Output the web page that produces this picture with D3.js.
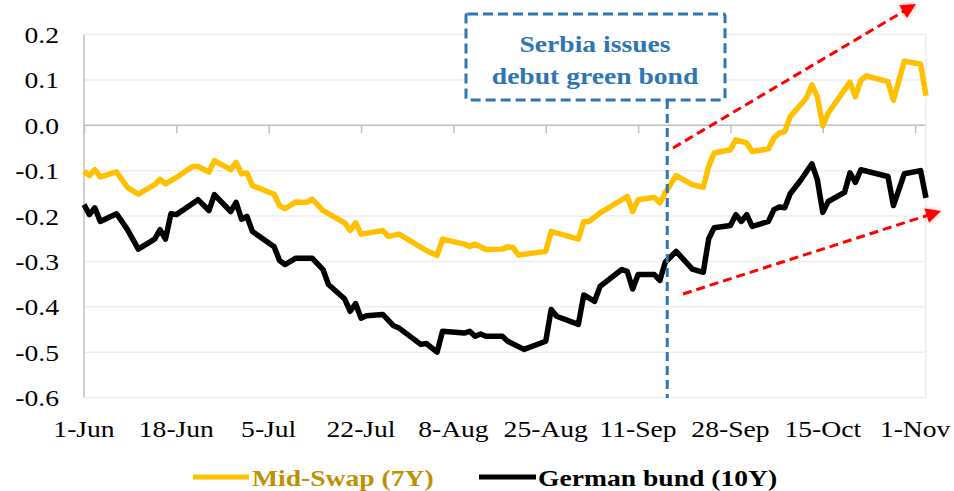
<!DOCTYPE html>
<html>
<head>
<meta charset="utf-8">
<title>Mid-Swap vs German bund</title>
<style>
  body { margin: 0; background: #fff; }
  svg text { font-family: "Liberation Serif", "Times New Roman", serif; }
</style>
</head>
<body>
<div id="chart"></div>
<script src="https://d3js.org/d3.v7.min.js"></script>
<script>
// data (2021), yields in %
var swapDates = ["2021-06-01","2021-06-02","2021-06-03","2021-06-04","2021-06-07","2021-06-09","2021-06-11","2021-06-14","2021-06-15","2021-06-16","2021-06-18","2021-06-21","2021-06-22","2021-06-24","2021-06-25","2021-06-28","2021-06-29","2021-06-30","2021-07-01","2021-07-02","2021-07-06","2021-07-07","2021-07-08","2021-07-10","2021-07-12","2021-07-13","2021-07-15","2021-07-19","2021-07-20","2021-07-21","2021-07-22","2021-07-26","2021-07-27","2021-07-29","2021-08-03","2021-08-05","2021-08-06","2021-08-10","2021-08-11","2021-08-12","2021-08-14","2021-08-17","2021-08-18","2021-08-19","2021-08-20","2021-08-25","2021-08-26","2021-08-31","2021-09-01","2021-09-02","2021-09-04","2021-09-09","2021-09-10","2021-09-11","2021-09-14","2021-09-15","2021-09-16","2021-09-18","2021-09-21","2021-09-23","2021-09-24","2021-09-25","2021-09-28","2021-09-29","2021-10-01","2021-10-02","2021-10-05","2021-10-06","2021-10-07","2021-10-08","2021-10-09","2021-10-12","2021-10-13","2021-10-14","2021-10-15","2021-10-16","2021-10-20","2021-10-21","2021-10-22","2021-10-23","2021-10-27","2021-10-28","2021-10-30","2021-11-02","2021-11-03"];
var swapValues = [-0.101,-0.111,-0.098,-0.114,-0.103,-0.137,-0.152,-0.131,-0.119,-0.129,-0.115,-0.091,-0.091,-0.103,-0.078,-0.098,-0.082,-0.107,-0.105,-0.133,-0.152,-0.177,-0.184,-0.169,-0.170,-0.163,-0.188,-0.215,-0.232,-0.215,-0.240,-0.232,-0.245,-0.240,-0.276,-0.287,-0.251,-0.262,-0.267,-0.262,-0.274,-0.273,-0.268,-0.270,-0.286,-0.278,-0.234,-0.251,-0.212,-0.212,-0.193,-0.157,-0.190,-0.164,-0.159,-0.171,-0.149,-0.111,-0.131,-0.137,-0.090,-0.061,-0.054,-0.032,-0.039,-0.058,-0.052,-0.028,-0.017,-0.014,0.019,0.060,0.089,0.063,-0.001,0.027,0.095,0.063,0.099,0.109,0.096,0.055,0.141,0.135,0.065];

var bundDates = ["2021-06-01","2021-06-02","2021-06-03","2021-06-04","2021-06-07","2021-06-09","2021-06-11","2021-06-14","2021-06-15","2021-06-16","2021-06-17","2021-06-18","2021-06-22","2021-06-24","2021-06-25","2021-06-28","2021-06-29","2021-06-30","2021-07-01","2021-07-02","2021-07-06","2021-07-07","2021-07-08","2021-07-10","2021-07-13","2021-07-15","2021-07-16","2021-07-19","2021-07-20","2021-07-21","2021-07-22","2021-07-23","2021-07-26","2021-07-28","2021-07-29","2021-08-02","2021-08-03","2021-08-05","2021-08-06","2021-08-10","2021-08-11","2021-08-12","2021-08-13","2021-08-14","2021-08-17","2021-08-18","2021-08-21","2021-08-25","2021-08-26","2021-08-27","2021-08-31","2021-09-01","2021-09-03","2021-09-04","2021-09-08","2021-09-09","2021-09-10","2021-09-11","2021-09-14","2021-09-15","2021-09-16","2021-09-18","2021-09-21","2021-09-23","2021-09-24","2021-09-25","2021-09-28","2021-09-29","2021-09-30","2021-10-01","2021-10-02","2021-10-05","2021-10-06","2021-10-07","2021-10-08","2021-10-09","2021-10-11","2021-10-13","2021-10-14","2021-10-15","2021-10-16","2021-10-19","2021-10-20","2021-10-21","2021-10-22","2021-10-27","2021-10-28","2021-10-30","2021-11-02","2021-11-03"];
var bundValues = [-0.175,-0.197,-0.182,-0.212,-0.195,-0.230,-0.273,-0.251,-0.230,-0.251,-0.195,-0.197,-0.164,-0.188,-0.153,-0.190,-0.170,-0.207,-0.201,-0.234,-0.268,-0.298,-0.307,-0.293,-0.293,-0.318,-0.351,-0.383,-0.410,-0.393,-0.425,-0.420,-0.417,-0.442,-0.447,-0.483,-0.481,-0.500,-0.454,-0.458,-0.454,-0.465,-0.460,-0.465,-0.465,-0.476,-0.494,-0.476,-0.406,-0.421,-0.439,-0.374,-0.388,-0.355,-0.318,-0.322,-0.361,-0.329,-0.329,-0.342,-0.302,-0.278,-0.317,-0.324,-0.250,-0.226,-0.221,-0.197,-0.212,-0.197,-0.223,-0.212,-0.186,-0.180,-0.182,-0.151,-0.120,-0.085,-0.120,-0.192,-0.168,-0.148,-0.105,-0.126,-0.098,-0.113,-0.177,-0.107,-0.100,-0.160];

var xTickDates = ["2021-06-01","2021-06-18","2021-07-05","2021-07-22","2021-08-08","2021-08-25","2021-09-11","2021-09-28","2021-10-15","2021-11-01"];
var xTickLabels = ["1-Jun","18-Jun","5-Jul","22-Jul","8-Aug","25-Aug","11-Sep","28-Sep","15-Oct","1-Nov"];
var yTicks = [-0.6,-0.5,-0.4,-0.3,-0.2,-0.1,0.0,0.1,0.2];
var seriesNames = ["Mid-Swap (7Y)", "German bund (10Y)"];
var eventDate = "2021-09-16";
var eventText = ["Serbia issues", "debut green bond"];

var width = 954, height = 491;
var parse = d3.timeParse("%Y-%m-%d");
var stretch = "scale(1.2,1)";   // the original chart text is a bit wide

var svg = d3.select("#chart").append("svg")
  .attr("width", width)
  .attr("height", height);

var x = d3.scaleTime()
  .domain([parse("2021-06-01"), parse("2021-11-03")])
  .range([84, 926]);
var y = d3.scaleLinear()
  .domain([-0.6, 0.2])
  .range([397.5, 34.5]);

// gridlines
svg.append("g").selectAll("line")
  .data(yTicks)
  .enter().append("line")
  .attr("x1", 84).attr("x2", 926)
  .attr("y1", function(d){ return y(d); })
  .attr("y2", function(d){ return y(d); })
  .attr("stroke", function(d){ return d === 0 ? "#bfbfbf" : "#ededed"; })
  .attr("stroke-width", 1.5);

// right border + left axis
svg.append("line").attr("x1", 926).attr("x2", 926).attr("y1", y(0.2)).attr("y2", y(-0.6))
  .attr("stroke", "#ededed").attr("stroke-width", 1.5);
svg.append("line").attr("x1", 84).attr("x2", 84).attr("y1", y(0.2)).attr("y2", y(-0.6))
  .attr("stroke", "#bfbfbf").attr("stroke-width", 1.5);

// y axis labels
var yAxis = svg.append("g")
  .attr("transform", "translate(84,0)")
  .call(d3.axisLeft(y).tickValues(yTicks).tickSize(0).tickPadding(0)
        .tickFormat(function(d){ return d.toFixed(1).replace("\u2212", "-"); }));
yAxis.select(".domain").remove();
yAxis.selectAll("text")
  .attr("x", null).attr("dy", null)
  .attr("transform", "translate(-25,8) " + stretch)
  .attr("font-family", "Liberation Serif")
  .attr("font-size", 23)
  .attr("fill", "#000")
  .attr("text-anchor", "end");

// x ticks on the zero line
var xAxis = svg.append("g")
  .attr("transform", "translate(0," + y(0) + ")")
  .call(d3.axisBottom(x).tickValues(xTickDates.map(parse)).tickSizeOuter(0).tickSizeInner(8).tickFormat(""));
xAxis.select(".domain").remove();
xAxis.selectAll("line").attr("stroke", "#bfbfbf").attr("stroke-width", 1.5);

// x labels at bottom
svg.append("g").selectAll("text")
  .data(xTickDates)
  .enter().append("text")
  .attr("transform", function(d){ return "translate(" + x(parse(d)) + ",437) " + stretch; })
  .attr("text-anchor", "middle")
  .attr("font-size", 23)
  .text(function(d, i){ return xTickLabels[i]; });

// lines
var line = d3.line()
  .x(function(d){ return x(d.date); })
  .y(function(d){ return y(d.value); });

var swap = swapDates.map(function(d, i){ return {date: parse(d), value: swapValues[i]}; });
var bund = bundDates.map(function(d, i){ return {date: parse(d), value: bundValues[i]}; });

svg.append("path").datum(swap)
  .attr("d", line)
  .attr("fill", "none")
  .attr("stroke", "#FFC000")
  .attr("stroke-width", 5.5)
  .attr("stroke-linejoin", "round");

svg.append("path").datum(bund)
  .attr("d", line)
  .attr("fill", "none")
  .attr("stroke", "#000")
  .attr("stroke-width", 5.5)
  .attr("stroke-linejoin", "round");

// event marker
var ex = x(parse(eventDate)) + 2;
svg.append("line")
  .attr("x1", ex).attr("x2", ex)
  .attr("y1", 100).attr("y2", 398)
  .attr("stroke", "#2E75B6").attr("stroke-width", 3)
  .attr("stroke-dasharray", "9,5");

svg.append("rect")
  .attr("x", 466).attr("y", 14)
  .attr("width", 259).attr("height", 86)
  .attr("rx", 2)
  .attr("fill", "#fff")
  .attr("stroke", "#2E75B6").attr("stroke-width", 3)
  .attr("stroke-dasharray", "10,5");

svg.append("g").selectAll("text")
  .data(eventText)
  .enter().append("text")
  .attr("transform", function(d, i){ return "translate(595," + (52 + i * 32) + ") " + stretch; })
  .attr("text-anchor", "middle")
  .attr("font-size", 23)
  .attr("font-weight", "bold")
  .attr("fill", "#2E75B6")
  .text(function(d){ return d; });

// red trend arrows
var defs = svg.append("defs");
defs.append("filter").attr("id", "glow")
  .attr("x", "-50%").attr("y", "-50%").attr("width", "200%").attr("height", "200%")
  .append("feGaussianBlur").attr("stdDeviation", 2.5);

function arrow(x1, y1, x2, y2) {
  var dx = x2 - x1, dy = y2 - y1, len = Math.sqrt(dx*dx + dy*dy);
  var ux = dx / len, uy = dy / len, nx = -uy, ny = ux;
  var hl = 15, hw = 7.5;
  var bx = x2 - ux * hl, by = y2 - uy * hl;
  var head = [[x2, y2], [bx + nx*hw, by + ny*hw], [bx - nx*hw, by - ny*hw]];
  var g = svg.append("g");
  g.append("path")
    .attr("d", "M" + head.join("L") + "Z")
    .attr("fill", "#ff0000").attr("opacity", 0.35)
    .attr("filter", "url(#glow)");
  g.append("line")
    .attr("x1", x1).attr("y1", y1).attr("x2", bx + ux*2).attr("y2", by + uy*2)
    .attr("stroke", "#ff0000").attr("stroke-width", 3)
    .attr("stroke-dasharray", "9,5");
  g.append("path")
    .attr("d", "M" + head.join("L") + "Z")
    .attr("fill", "#ff0000");
}
arrow(673, 148, 916, 4);
arrow(683, 294, 941, 211);

// legend
var legend = svg.append("g");
legend.append("line").attr("x1", 193).attr("x2", 249).attr("y1", 477).attr("y2", 477)
  .attr("stroke", "#FFC000").attr("stroke-width", 5);
legend.append("text")
  .attr("transform", "translate(252,486) " + stretch)
  .attr("font-size", 23).attr("font-weight", "bold").attr("fill", "#BF9000")
  .text(seriesNames[0]);
legend.append("line").attr("x1", 479).attr("x2", 536).attr("y1", 477).attr("y2", 477)
  .attr("stroke", "#000").attr("stroke-width", 5);
legend.append("text")
  .attr("transform", "translate(538,486) " + stretch)
  .attr("font-size", 23).attr("font-weight", "bold").attr("fill", "#000")
  .text(seriesNames[1]);
</script>
</body>
</html>
